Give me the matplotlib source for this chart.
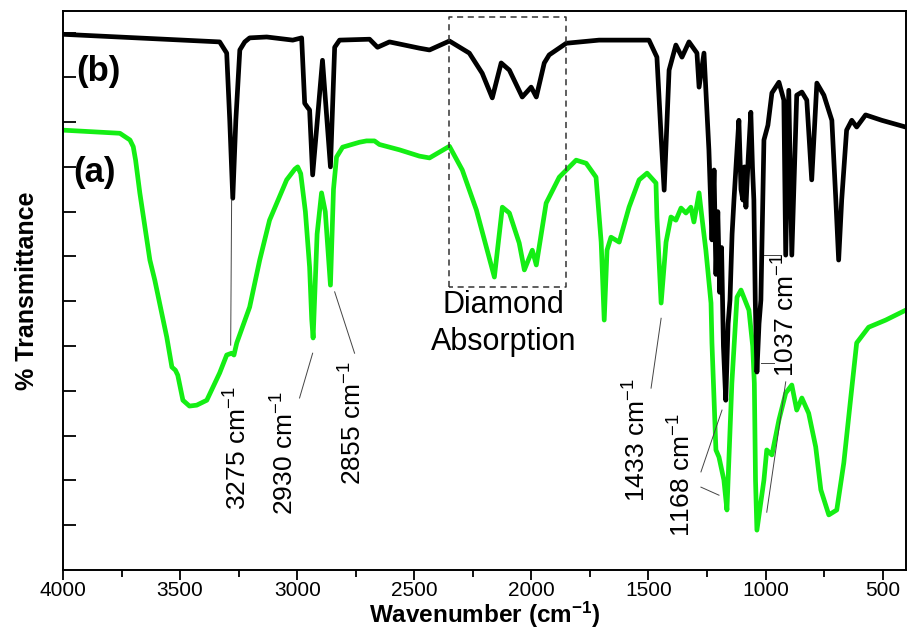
import numpy as np
import matplotlib.pyplot as plt

plt.rcParams['font.family'] = ['Liberation Sans', 'DejaVu Sans']
plt.rcParams['mathtext.fontset'] = 'custom'
plt.rcParams['mathtext.rm'] = 'Liberation Sans'
plt.rcParams['mathtext.bf'] = 'Liberation Sans:bold'
plt.rcParams['mathtext.default'] = 'regular'

# espectro (a) - verde
wn_a = [4000, 3757, 3714, 3700, 3690, 3672, 3629, 3608, 3557, 3535, 3520, 3510, 3488,
        3460, 3429, 3386, 3331, 3301, 3280, 3270, 3258, 3203, 3160, 3118, 3045, 3010, 2998,
        2985, 2965, 2947, 2938, 2932, 2915, 2896, 2880, 2858, 2845, 2832, 2806, 2734, 2704, 2670,
        2649, 2563, 2478, 2435, 2350, 2295, 2235, 2158, 2124, 2094, 2052, 2030,
        1996, 1979, 1937, 1881, 1809, 1766, 1724, 1702, 1689, 1677, 1660, 1625,
        1583, 1540, 1506, 1468, 1464, 1446, 1425, 1404, 1383, 1361, 1340, 1319,
        1306, 1284, 1272, 1255, 1233, 1229, 1212, 1199, 1178, 1165, 1144, 1122,
        1105, 1071, 1055, 1048, 1043, 1037, 1007, 995, 973, 943, 914, 888, 867,
        845, 816, 786, 764, 730, 696, 666, 636, 611, 560, 487, 402]
T_a = [98.2, 97.5, 96.0, 94.5, 91.5, 84.2, 69.2, 64.7, 52.0, 45.3, 44.6, 43.5, 37.9,
       36.6, 36.8, 37.9, 44.0, 48.0, 48.4, 48.0, 50.7, 58.7, 69.2, 78.1, 87.1, 89.5, 90.0,
       88.5, 80.0, 67.6, 56.0, 51.8, 75.0, 84.2, 80.0, 63.6, 85.0, 92.2, 94.4, 95.5, 95.8, 95.8,
       95.0, 93.8, 92.4, 92.0, 94.6, 89.3, 80.4, 65.4, 81.0, 79.7, 73.0, 67.0,
       71.4, 68.1, 81.9, 87.7, 91.5, 90.8, 87.7, 73.2, 55.8, 71.4, 74.3, 73.2,
       81.0, 87.1, 88.6, 86.4, 78.8, 59.6, 73.2, 78.8, 78.1, 80.8, 79.7, 81.0,
       77.7, 84.2, 78.8, 71.4, 59.6, 50.7, 26.8, 25.2, 20.1, 13.4, 41.7, 60.9,
       62.5, 58.0, 50.0, 41.7, 20.1, 8.9, 20.1, 26.8, 25.7, 33.5, 39.5, 41.3, 35.7,
       38.4, 35.0, 27.5, 17.9, 12.3, 13.4, 23.9, 38.6, 50.7, 54.2, 55.8, 58.0]

# espectro (b) - negro
wn_b = [4000, 3331, 3301, 3288, 3275, 3262, 3245, 3224, 3203, 3130, 3019, 2981,
        2968, 2956, 2947, 2934, 2892, 2858, 2840, 2819, 2691, 2657, 2606, 2478,
        2435, 2350, 2265, 2210, 2167, 2129, 2094, 2039, 2001, 1979, 1945, 1924,
        1851, 1711, 1498, 1464, 1446, 1433, 1412, 1383, 1357, 1327, 1293, 1284,
        1263, 1242, 1229, 1220, 1212, 1204, 1196, 1188, 1180, 1170, 1160, 1152,
        1143, 1135, 1124, 1114, 1105, 1097, 1090, 1084, 1074, 1063, 1056, 1050,
        1044, 1037, 1028, 1020, 1007, 990, 973, 943, 922, 914, 901, 888, 867,
        845, 824, 803, 781, 751, 717, 700, 688, 675, 654, 632, 611, 573, 504, 402]
T_b = [119.6, 117.9, 115.4, 100.4, 83.0, 100.4, 116.1, 117.9, 118.8, 119.0, 118.3, 118.8,
       104.2, 103.3, 102.7, 88.2, 113.8, 90.0, 116.7, 118.3, 118.5, 116.7, 117.9, 116.5,
       116.1, 118.1, 115.4, 110.9, 105.4, 113.2, 111.6, 105.6, 107.8, 105.6, 113.2, 115.0,
       117.6, 118.3, 118.3, 114.5, 96.7, 84.8, 111.6, 117.2, 114.5, 117.9, 115.4, 107.8,
       115.4, 93.8, 73.7, 89.3, 66.0, 80.0, 62.0, 72.0, 50.0, 37.9, 55.0, 60.3,
       75.0, 82.6, 92.0, 100.4, 85.0, 82.6, 90.0, 81.0, 92.0, 102.2, 90.0, 82.6,
       60.0, 44.2, 55.0, 60.3, 96.0, 99.3, 106.5, 108.9, 104.9, 70.3, 107.1, 70.3, 106.0,
       106.7, 104.9, 87.1, 108.7, 106.0, 100.4, 82.6, 69.2, 82.6, 98.2, 100.4, 98.9, 101.6, 100.4, 98.9]

# etiquetas de picos: texto, posicion del texto
picos = ['3275', '2930', '2855', '1433', '1168', '1037']
pos_x = [3254, 3054, 2760, 1549, 1357, 912]
pos_y = [13.4, 12.3, 19.0, 15.2, 7.4, 43.1]

# lineas guia (x1, x2, y1, y2)
guias = [([3280, 3284], [82.6, 50.2]),
         ([2934, 2990], [48.4, 38.4]),
         ([2840, 2755], [62.1, 48.4]),
         ([1446, 1489], [56.2, 40.6]),
         ([1186, 1276], [35.7, 21.9]),
         ([1199, 1276], [16.7, 18.5]),
         ([1020, 965], [46.2, 46.2]),
         ([1007, 935], [70.3, 70.3]),
         ([914, 995], [42.0, 12.9])]

fig = plt.figure(figsize=(9.07, 6.35), dpi=100)
ax = fig.add_axes([63/907, 1 - 570/635, 1 - 63/907 - 0.001, (570 - 11)/635])

ax.plot(wn_a, T_a, color='#14ee14', lw=3.4, solid_joinstyle='round')
ax.plot(wn_b, T_b, color='black', lw=3.4, solid_joinstyle='round')

for gx, gy in guias:
    ax.plot(gx, gy, color='#444444', lw=0.7)

for p, x, y in zip(picos, pos_x, pos_y):
    ax.text(x, y, p + ' cm$^{-1}$', rotation=90, ha='center', va='bottom', fontsize=19)

# recuadro de absorcion del diamante
ax.plot([2350, 2350, 1851, 1851, 2350], [63.2, 123.4, 123.4, 63.2, 63.2],
        color='#333333', lw=1.1, dashes=(4, 3))
ax.text(2120, 57.4, 'Diamond', ha='center', va='baseline', fontsize=22)
ax.text(2120, 49.1, 'Absorption', ha='center', va='baseline', fontsize=22)

ax.text(3847, 111.4, '(b)', ha='center', va='center', fontsize=25, fontweight='bold')
ax.text(3864, 88.8, '(a)', ha='center', va='center', fontsize=25, fontweight='bold')

ax.set_xlim(4000, 400)
ax.set_ylim(0, 124.8)
ax.set_xticks([4000, 3500, 3000, 2500, 2000, 1500, 1000, 500])
ax.set_xticks(np.arange(3750, 400, -500), minor=True)
ax.set_yticks(np.arange(10, 121, 10))
ax.set_yticklabels([])
ax.tick_params(axis='x', direction='out', length=7, width=1.3, labelsize=15, pad=1)
ax.tick_params(axis='x', which='minor', direction='out', length=5, width=1.3)
ax.tick_params(axis='y', direction='in', length=9, width=1.3)
for s in ax.spines.values():
    s.set_linewidth(1.4)

ax.set_xlabel('Wavenumber (cm$^{\\mathbf{-1}}$)', fontsize=17.5, fontweight='bold', labelpad=0)
ax.set_ylabel('% Transmittance', fontsize=18, fontweight='bold', labelpad=14)

fig.savefig('out.png', dpi=100)
